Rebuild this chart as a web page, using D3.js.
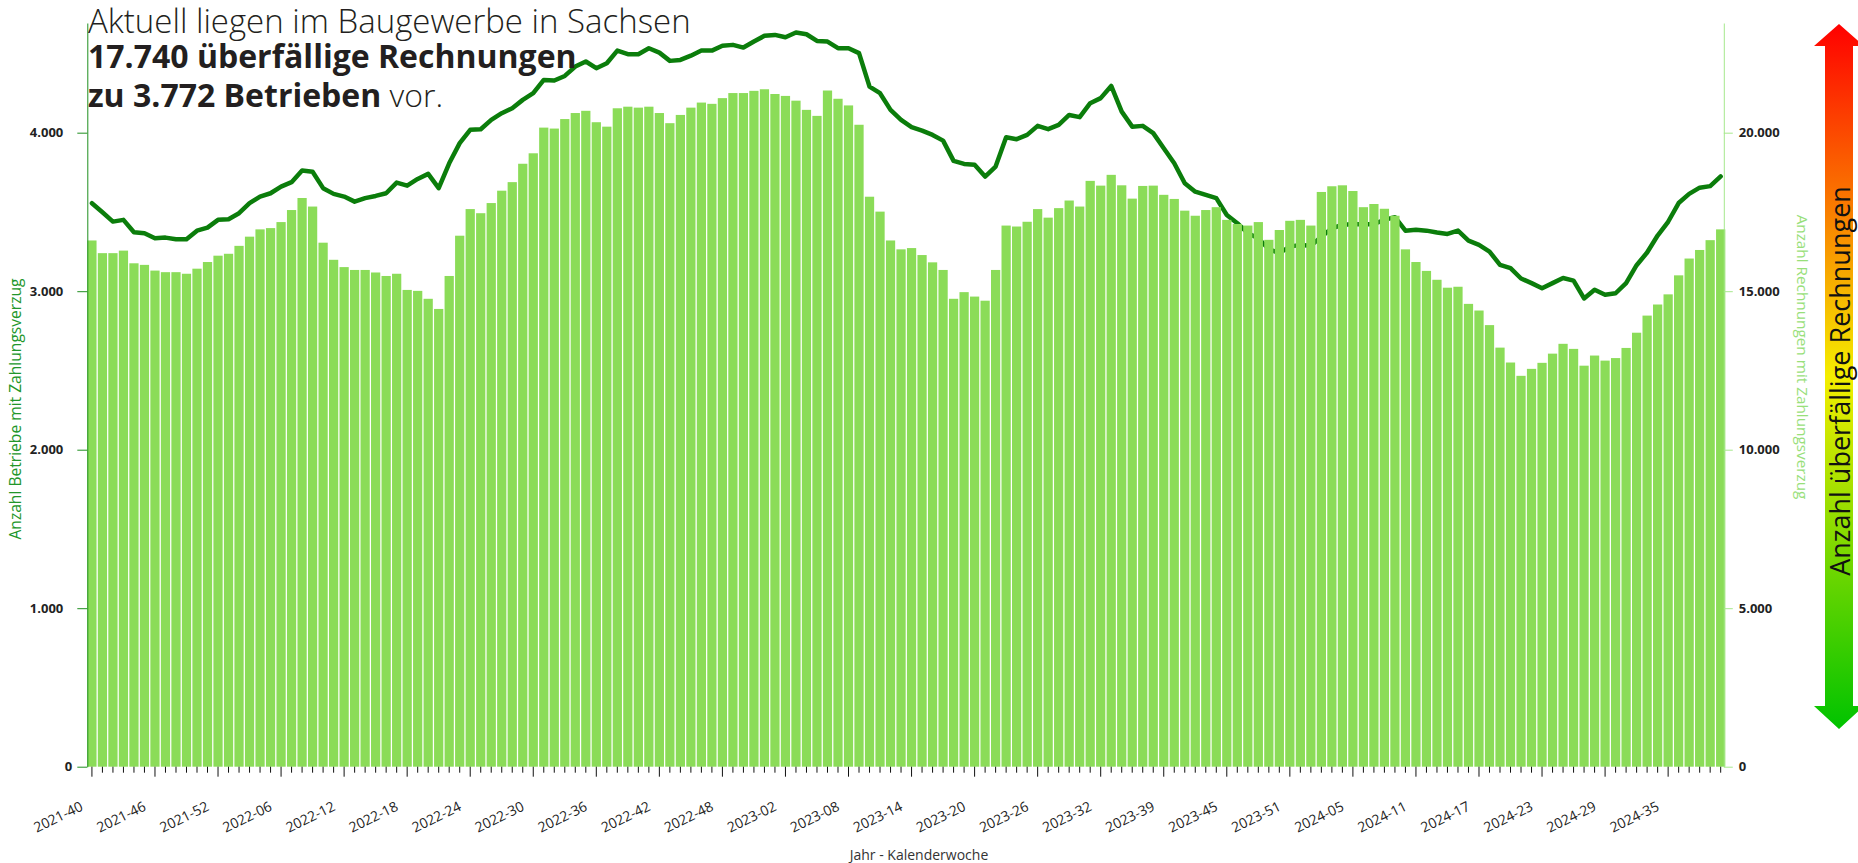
<!DOCTYPE html>
<html>
<head>
<meta charset="utf-8">
<script src="https://cdnjs.cloudflare.com/ajax/libs/d3/7.8.5/d3.min.js"></script>
<style>
  body { margin: 0; background: #fff; }
  svg { display: block; font-family: "Open Sans", sans-serif; }
</style>
</head>
<body>
<svg id="chart" width="1858" height="863"></svg>
<script>
'use strict';

/* Data */

var weeks = [
    '2021-40','2021-41','2021-42','2021-43','2021-44','2021-45','2021-46','2021-47','2021-48','2021-49','2021-50','2021-51','2021-52',
    '2022-01','2022-02','2022-03','2022-04','2022-05','2022-06','2022-07','2022-08','2022-09','2022-10','2022-11','2022-12','2022-13',
    '2022-14','2022-15','2022-16','2022-17','2022-18','2022-19','2022-20','2022-21','2022-22','2022-23','2022-24','2022-25','2022-26',
    '2022-27','2022-28','2022-29','2022-30','2022-31','2022-32','2022-33','2022-34','2022-35','2022-36','2022-37','2022-38','2022-39',
    '2022-40','2022-41','2022-42','2022-43','2022-44','2022-45','2022-46','2022-47','2022-48','2022-49','2022-50','2022-51','2022-52',
    '2023-01','2023-02','2023-03','2023-04','2023-05','2023-06','2023-07','2023-08','2023-09','2023-10','2023-11','2023-12','2023-13',
    '2023-14','2023-15','2023-16','2023-17','2023-18','2023-19','2023-20','2023-21','2023-22','2023-23','2023-24','2023-25','2023-26',
    '2023-27','2023-28','2023-29','2023-30','2023-31','2023-32','2023-33','2023-34','2023-35','2023-37','2023-38','2023-39','2023-40',
    '2023-41','2023-42','2023-43','2023-44','2023-45','2023-46','2023-47','2023-48','2023-49','2023-50','2023-51','2023-52',
    '2024-01','2024-02','2024-03','2024-04','2024-05','2024-06','2024-07','2024-08','2024-09','2024-10','2024-11','2024-12','2024-13',
    '2024-14','2024-15','2024-16','2024-17','2024-18','2024-19','2024-20','2024-21','2024-22','2024-23','2024-24','2024-25','2024-26',
    '2024-27','2024-28','2024-29','2024-30','2024-31','2024-32','2024-33','2024-34','2024-35','2024-36','2024-37','2024-38','2024-39',
    '2024-40'
];

// Anzahl Rechnungen mit Zahlungsverzug (bars, right axis)
var rechnungen = [
    16600, 16200, 16200, 16280, 15880, 15830, 15650, 15600, 15600, 15550,
    15710, 15920, 16120, 16180, 16430, 16720, 16950, 16990, 17180, 17560,
    17940, 17670, 16530, 15990, 15760, 15670, 15670, 15590, 15480, 15550,
    15040, 15010, 14760, 14440, 15480, 16750, 17590, 17460, 17780, 18170,
    18440, 19020, 19350, 20160, 20130, 20430, 20620, 20690, 20330, 20190,
    20770, 20820, 20790, 20820, 20620, 20300, 20560, 20790, 20950, 20910,
    21090, 21250, 21250, 21320, 21370, 21220, 21160, 21010, 20720, 20530,
    21330, 21070, 20860, 20250, 17980, 17510, 16600, 16320, 16360, 16140,
    15910, 15670, 14760, 14970, 14830, 14700, 15670, 17070, 17040, 17190,
    17590, 17320, 17620, 17860, 17670, 18480, 18330, 18670, 18340, 17920,
    18320, 18330, 18040, 17910, 17540, 17380, 17560, 17650, 17250, 17120,
    17070, 17180, 16620, 16930, 17220, 17250, 17070, 18130, 18310, 18340,
    18160, 17650, 17750, 17600, 17380, 16320, 15920, 15640, 15360, 15110,
    15140, 14600, 14390, 13930, 13220, 12750, 12330, 12550, 12740, 13030,
    13340, 13180, 12650, 12970, 12810, 12890, 13210, 13690, 14230, 14580,
    14900, 15500, 16030, 16300, 16610, 16950
];

// Anzahl Betriebe mit Zahlungsverzug (line, left axis)
var betriebe = [
    3555, 3498, 3439, 3450, 3372, 3366, 3334, 3338, 3328, 3328,
    3382, 3401, 3450, 3454, 3492, 3555, 3597, 3618, 3660, 3688,
    3761, 3754, 3650, 3614, 3597, 3565, 3587, 3601, 3618, 3685,
    3666, 3708, 3740, 3650, 3807, 3934, 4018, 4022, 4081, 4123,
    4154, 4207, 4249, 4333, 4329, 4358, 4417, 4449, 4407, 4438,
    4518, 4495, 4495, 4533, 4505, 4453, 4459, 4486, 4518, 4518,
    4548, 4554, 4537, 4575, 4611, 4617, 4602, 4632, 4621, 4579,
    4575, 4533, 4533, 4502, 4291, 4249, 4144, 4081, 4035, 4013,
    3986, 3950, 3822, 3803, 3797, 3723, 3786, 3971, 3959, 3986,
    4043, 4022, 4049, 4112, 4098, 4186, 4218, 4295, 4133, 4038,
    4043, 3997, 3902, 3807, 3681, 3628, 3607, 3587, 3481, 3429,
    3366, 3334, 3265, 3240, 3281, 3292, 3286, 3344, 3397, 3418,
    3424, 3420, 3424, 3450, 3467, 3382, 3387, 3382, 3370, 3361,
    3382, 3319, 3292, 3250, 3166, 3145, 3080, 3051, 3019, 3051,
    3083, 3067, 2954, 3009, 2977, 2987, 3051, 3164, 3244, 3351,
    3438, 3556, 3614, 3653, 3663, 3724
];

var xLabels = ['2021-40','2021-46','2021-52','2022-06','2022-12','2022-18','2022-24','2022-30','2022-36',
    '2022-42','2022-48','2023-02','2023-08','2023-14','2023-20','2023-26','2023-32','2023-39','2023-45',
    '2023-51','2024-05','2024-11','2024-17','2024-23','2024-29','2024-35'];
var leftTicks = [0, 1000, 2000, 3000, 4000];
var rightTicks = [0, 5000, 10000, 15000, 20000];
var legendColors = ['#ff0000', '#f4ee00', '#00c300'];

/* Chart */

var W = 1858, H = 863;
var plot = {left: 87.3, right: 1725.3, top: 23, bottom: 766.7};

var de = d3.formatLocale({decimal: ',', thousands: '.', grouping: [3], currency: ['', ' €']});
var fmt = de.format(',d');

var svg = d3.select('#chart');
svg.append('rect').attr('width', W).attr('height', H).attr('fill', '#fff');

var x = d3.scaleBand().domain(weeks).range([plot.left, plot.right]).paddingInner(0.12).paddingOuter(0);
var yLeft = d3.scaleLinear().domain([0, 4692]).range([plot.bottom, plot.top]);
var yRight = d3.scaleLinear().domain([0, 23460]).range([plot.bottom, plot.top]);

// line first, bars are painted over it
var line = d3.line()
    .x(function (d, i) { return x(weeks[i]) + x.bandwidth() / 2; })
    .y(function (d) { return yLeft(d); });

svg.append('path')
    .datum(betriebe)
    .attr('d', line)
    .attr('fill', 'none')
    .attr('stroke', '#0b7d0b')
    .attr('stroke-width', 4.5)
    .attr('stroke-linejoin', 'round')
    .attr('stroke-linecap', 'round');

svg.append('g').selectAll('rect')
    .data(rechnungen)
    .join('rect')
    .attr('x', function (d, i) { return x(weeks[i]); })
    .attr('y', function (d) { return yRight(d); })
    .attr('width', x.bandwidth())
    .attr('height', function (d) { return yRight(0) - yRight(d); })
    .attr('fill', '#8bdc58');

// x axis
var gx = svg.append('g')
    .attr('transform', 'translate(0,' + plot.bottom + ')')
    .call(d3.axisBottom(x).tickSize(6).tickSizeOuter(0)
        .tickFormat(function (d) { return xLabels.indexOf(d) >= 0 ? d : ''; }));
gx.select('.domain').remove();
gx.selectAll('.tick line')
    .attr('stroke', '#111')
    .attr('y2', function (d) { return xLabels.indexOf(d) >= 0 ? 10 : 6; });
gx.selectAll('.tick text')
    .attr('x', 0).attr('y', 0).attr('dy', 0)
    .attr('text-anchor', 'end')
    .attr('transform', 'translate(-8,43) rotate(-26)')
    .attr('fill', '#222')
    .style('font-family', '"Open Sans", sans-serif')
    .style('font-size', '14px');

// left axis
var gl = svg.append('g')
    .attr('transform', 'translate(' + plot.left + ',0)')
    .call(d3.axisLeft(yLeft).tickValues(leftTicks).tickSize(10).tickSizeOuter(0).tickPadding(5).tickFormat(fmt));
gl.select('.domain').attr('stroke', '#1f8f1f');
gl.selectAll('.tick line').attr('stroke', '#1f8f1f');
gl.selectAll('.tick text')
    .attr('dx', function (d) { return d === 0 ? 0 : -9; })
    .attr('fill', '#222')
    .style('font-family', '"Open Sans", sans-serif')
    .style('font-size', '13px')
    .style('font-weight', 700);

// right axis
var gr = svg.append('g')
    .attr('transform', 'translate(' + (plot.right - 1.5) + ',0)')
    .call(d3.axisRight(yRight).tickValues(rightTicks).tickSize(9).tickSizeOuter(0).tickPadding(6).tickFormat(fmt));
gr.select('.domain').attr('stroke', '#a6e88c');
gr.selectAll('.tick line').attr('stroke', '#a6e88c');
gr.selectAll('.tick text')
    .attr('fill', '#222')
    .style('font-family', '"Open Sans", sans-serif')
    .style('font-size', '13px')
    .style('font-weight', 700);

// axis titles
svg.append('text')
    .attr('transform', 'translate(15,409) rotate(-90)')
    .attr('text-anchor', 'middle')
    .attr('dominant-baseline', 'central')
    .attr('fill', '#22962a')
    .style('font-size', '15.6px')
    .text('Anzahl Betriebe mit Zahlungsverzug');

svg.append('text')
    .attr('transform', 'translate(1803,357) rotate(90)')
    .attr('text-anchor', 'middle')
    .attr('dominant-baseline', 'central')
    .attr('fill', '#98e07a')
    .style('font-size', '15.3px')
    .text('Anzahl Rechnungen mit Zahlungsverzug');

svg.append('text')
    .attr('x', 919).attr('y', 860)
    .attr('text-anchor', 'middle')
    .attr('fill', '#333')
    .style('font-size', '14px')
    .text('Jahr - Kalenderwoche');

// headline, one text per line
var titleLines = svg.append('g').attr('fill', '#231f20');
titleLines.append('text').attr('x', 88).attr('y', 33).style('font-weight', 300).style('font-size', '33px')
    .text('Aktuell liegen im Baugewerbe in Sachsen');
titleLines.append('text').attr('x', 88).attr('y', 68).style('font-weight', 700).style('font-size', '32px')
    .text('17.740 überfällige Rechnungen');
var third = titleLines.append('text').attr('x', 88).attr('y', 107).style('font-size', '32px');
third.append('tspan').style('font-weight', 700).text('zu 3.772 Betrieben');
third.append('tspan').style('font-weight', 300).text(' vor.');

// gradient arrow on the right
var grad = svg.append('defs').append('linearGradient')
    .attr('id', 'arrowGrad')
    .attr('x1', 0).attr('y1', 0).attr('x2', 0).attr('y2', 1);
grad.selectAll('stop')
    .data(legendColors)
    .join('stop')
    .attr('offset', function (d, i) { return i / (legendColors.length - 1); })
    .attr('stop-color', function (d) { return d; });

var arrowX = 1839, arrowTop = 24, arrowBot = 729, headTop = 46, headBot = 706, shaftHalf = 14, wingHalf = 25;
var arrow = d3.path();
arrow.moveTo(arrowX, arrowTop);
arrow.lineTo(arrowX + wingHalf, headTop);
arrow.lineTo(arrowX + shaftHalf, headTop);
arrow.lineTo(arrowX + shaftHalf, headBot);
arrow.lineTo(arrowX + wingHalf, headBot);
arrow.lineTo(arrowX, arrowBot);
arrow.lineTo(arrowX - wingHalf, headBot);
arrow.lineTo(arrowX - shaftHalf, headBot);
arrow.lineTo(arrowX - shaftHalf, headTop);
arrow.lineTo(arrowX - wingHalf, headTop);
arrow.closePath();
svg.append('path').attr('d', arrow.toString()).attr('fill', 'url(#arrowGrad)');

svg.append('text')
    .attr('transform', 'translate(' + arrowX + ',381) rotate(-90)')
    .attr('text-anchor', 'middle')
    .attr('dominant-baseline', 'central')
    .attr('fill', '#111')
    .style('font-size', '27px')
    .text('Anzahl überfällige Rechnungen');
</script>
</body>
</html>
